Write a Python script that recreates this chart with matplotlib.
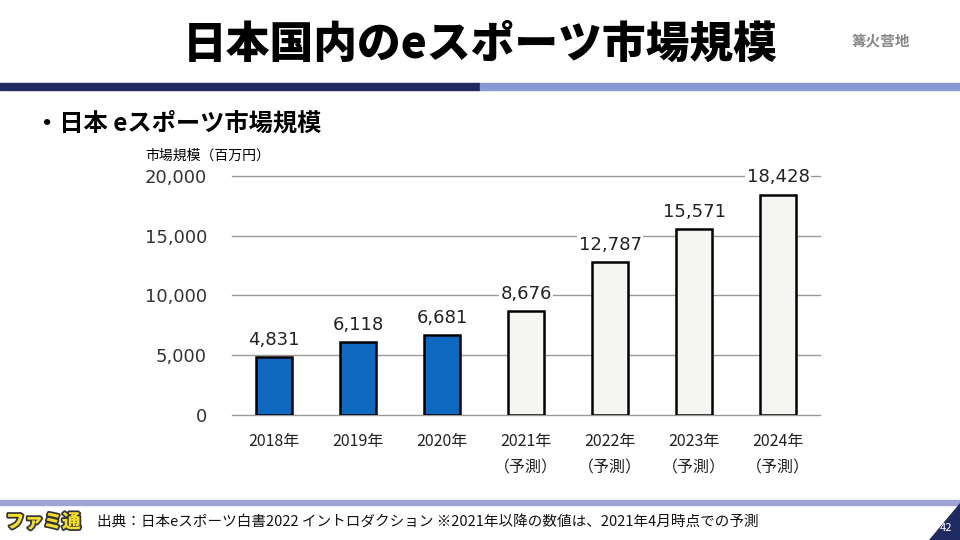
import matplotlib
matplotlib.use('Agg')
import matplotlib.pyplot as plt
import matplotlib.patheffects as pe
from matplotlib.patches import Rectangle, Polygon

plt.rcParams['font.family'] = ['Noto Sans CJK JP', 'DejaVu Sans']

# data
years = ['2018年', '2019年', '2020年', '2021年\n（予測）', '2022年\n（予測）', '2023年\n（予測）', '2024年\n（予測）']
values = [4831, 6118, 6681, 8676, 12787, 15571, 18428]
is_forecast = [False, False, False, True, True, True, True]
yticks = [0, 5000, 10000, 15000, 20000]

fig = plt.figure(figsize=(9.6, 5.4), dpi=100)

# title
fig.text(0.5, 0.918, '日本国内のeスポーツ市場規模', ha='center', va='center',
         fontsize=31.5, fontweight='black', color='black')
fig.text(0.918, 0.925, '篝火营地', ha='center', va='center', fontsize=10.5,
         color='#888888', family=['Noto Sans CJK SC', 'DejaVu Sans'], fontweight='bold')

# header bars
fig.patches.append(Rectangle((0, 0.834), 0.5, 0.012, transform=fig.transFigure,
                             color='#1f2a63', zorder=0))
fig.patches.append(Rectangle((0.5, 0.834), 0.5, 0.012, transform=fig.transFigure,
                             color='#8a98d6', zorder=0))

# subtitle
fig.text(0.036, 0.772, '・日本 eスポーツ市場規模', ha='left', va='center',
         fontsize=17.5, fontweight='bold')
fig.text(0.151, 0.712, '市場規模（百万円）', ha='left', va='center', fontsize=10)

# chart
ax = fig.add_axes([0.2417, 0.2315, 0.6125, 0.4426])
x = range(len(values))
colors = ['#f5f5f2' if f else '#0f68c0' for f in is_forecast]
ax.bar(x, values, width=0.42, color=colors, edgecolor='black', linewidth=1.8, zorder=3)
for xi, v in zip(x, values):
    ax.text(xi, v + 700, f'{v:,}', ha='center', va='bottom', fontsize=13,
            color='#222222', family='DejaVu Sans', zorder=4,
            bbox=dict(facecolor='white', edgecolor='none', pad=1))
ax.set_ylim(0, 20000)
ax.set_xlim(-0.5, len(values) - 0.5)
ax.set_yticks(yticks)
ax.set_yticklabels([f'{t:,}' for t in yticks], fontsize=13, color='#333333',
                   family='DejaVu Sans')
ax.yaxis.grid(True, color='#999999', linewidth=1, zorder=0)
for gl in ax.get_ygridlines():
    gl.set_clip_on(False)
ax.set_xticks(list(x))
ax.set_xticklabels(years, fontsize=11.5, color='#222222', linespacing=1.75, va='top')
ax.tick_params(axis='both', length=0)
ax.tick_params(axis='y', pad=18)
ax.tick_params(axis='x', pad=13)
for s in ax.spines.values():
    s.set_visible(False)

# footer
fig.patches.append(Rectangle((0, 0.064), 1, 0.01, transform=fig.transFigure,
                             color='#9ea3d2', zorder=0))
fig.text(0.006, 0.033, 'ファミ通', ha='left', va='center', fontsize=13.5, fontweight='black',
         color='#f3df2a', path_effects=[pe.withStroke(linewidth=2.5, foreground='#333333')])
fig.text(0.101, 0.033, '出典：日本eスポーツ白書2022 イントロダクション ※2021年以降の数値は、2021年4月時点での予測',
         ha='left', va='center', fontsize=10.5, color='#111111')
fig.patches.append(Polygon([[0.968, 0.0], [1.0, 0.0], [1.0, 0.068]], closed=True,
                           transform=fig.transFigure, color='#1f2a63', zorder=0))
fig.text(0.986, 0.022, '42', ha='center', va='center', fontsize=8, color='white')

fig.savefig('out.png', dpi=100)
